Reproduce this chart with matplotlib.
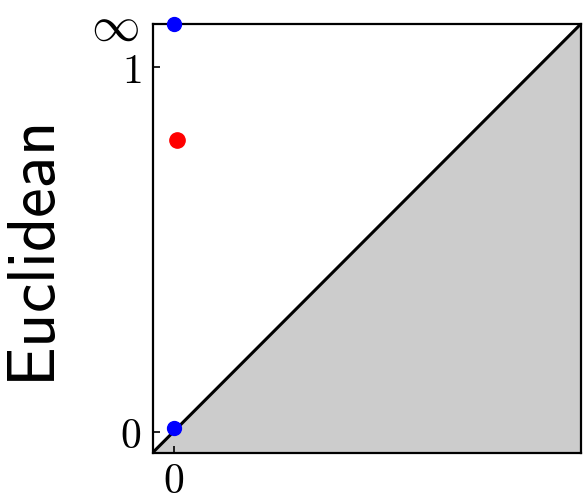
import numpy as np
import matplotlib
matplotlib.use('Agg')
import matplotlib.pyplot as plt
from matplotlib.transforms import ScaledTranslation

plt.rcParams['mathtext.fontset'] = 'cm'

# persistence pairs (birth, death); inf marks a class that never dies
h0_birth = [0.0, 0.0]
h0_death = [0.01, np.inf]
h1_birth = [0.01]
h1_death = [0.8]

lo, hi = -0.057, 1.117  # plot range, infinity drawn on the top edge


def finite(d):
    return [hi if np.isinf(v) else v for v in d]


fig = plt.figure(figsize=(5.83, 4.93), dpi=100)
ax = fig.add_axes([0.262, 0.082, 0.734, 0.869])

diag = np.array([lo, hi])
ax.fill_between(diag, lo, diag, color='#cccccc', zorder=1)
ax.plot(diag, diag, color='black', lw=2.2, zorder=2)

ax.plot(h0_birth, finite(h0_death), 'o', color='blue', ms=10, zorder=3, clip_on=False)
ax.plot(h1_birth, h1_death, 'o', color='red', ms=11, zorder=3, clip_on=False)

ax.set_xlim(lo, hi)
ax.set_ylim(lo, hi)
ax.set_xticks([0])
ax.set_xticklabels(['$0$'])
ax.set_yticks([0, 1, hi])
ax.set_yticklabels(['$0$', '$1$', r'$\infty$'])
ax.tick_params(direction='in', length=5, width=1.2, labelsize=30, pad=8)
ax.tick_params(axis='x', pad=5)

# bigger infinity sign, nudged up a little
inf_lbl = ax.get_yticklabels()[2]
inf_lbl.set_fontsize(35)
inf_lbl.set_transform(inf_lbl.get_transform() + ScaledTranslation(-2 / 72, 2 / 72, fig.dpi_scale_trans))

for s in ax.spines.values():
    s.set_linewidth(1.6)

ax.set_ylabel(r'$\mathsf{Euclidean}$', fontsize=48)
ax.yaxis.set_label_coords(-0.195, 0.46)

fig.savefig('out.png', dpi=100)
